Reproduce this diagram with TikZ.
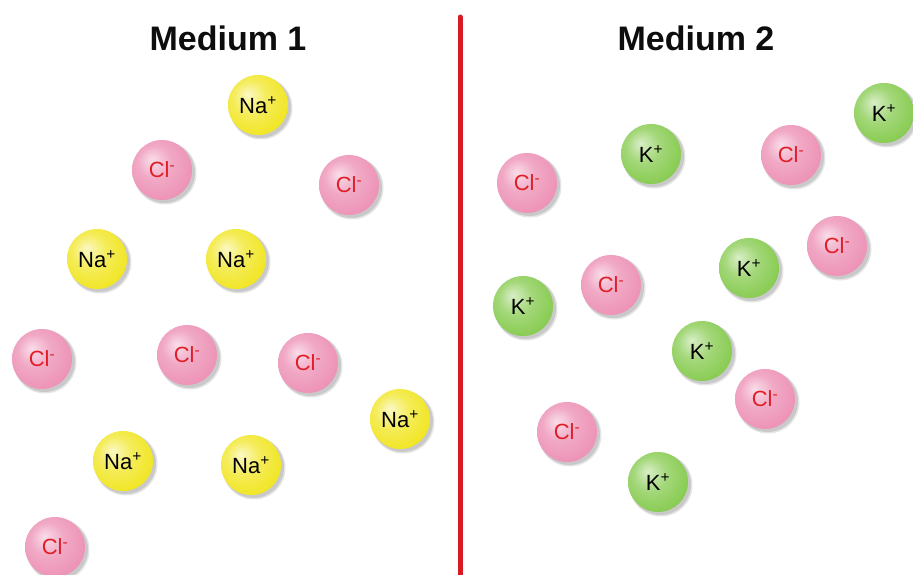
\documentclass[tikz,border=0pt]{standalone}
\usepackage{fontspec}
\setmainfont{Liberation Sans}
\usetikzlibrary{fadings}
\definecolor{pinkc}{RGB}{236,140,178}
\definecolor{yelc}{RGB}{240,228,20}
\definecolor{grnc}{RGB}{128,200,70}
\definecolor{clred}{RGB}{225,30,40}
\definecolor{divred}{RGB}{214,28,34}
\pgfdeclareradialshading{pinkball}{\pgfpoint{-9bp}{9bp}}{color(0bp)=(pinkc!30!white); color(14bp)=(pinkc!75!white); color(34bp)=(pinkc); color(50bp)=(pinkc!88!black)}
\pgfdeclareradialshading{yelball}{\pgfpoint{-9bp}{9bp}}{color(0bp)=(yelc!25!white); color(14bp)=(yelc!70!white); color(34bp)=(yelc); color(50bp)=(yelc!88!black)}
\pgfdeclareradialshading{grnball}{\pgfpoint{-9bp}{9bp}}{color(0bp)=(grnc!30!white); color(14bp)=(grnc!72!white); color(34bp)=(grnc); color(50bp)=(grnc!85!black)}
\tikzset{
  ionball/.style={circle, minimum size=60pt, inner sep=0pt, font=\fontsize{22}{22}\selectfont},
  clball/.style={ionball, shading=pinkball, text=clred},
  naball/.style={ionball, shading=yelball, text=black},
  kball/.style={ionball, shading=grnball, text=black},
  title/.style={font=\fontsize{34}{34}\selectfont\bfseries, text=black!95},
}
\newcommand\ionshadow[2]{%
  \fill[black, opacity=0.10] (#1+3,#2-3) circle (31.5pt);
  \fill[black, opacity=0.12] (#1+2.5,#2-2.5) circle (30.5pt);
}
\newcommand\clion[3]{\ionshadow{#2}{#3}\node[clball] (#1) at (#2,#3) {Cl\textsuperscript{-}};}
\newcommand\naion[3]{\ionshadow{#2}{#3}\node[naball] (#1) at (#2,#3) {Na\textsuperscript{+}};}
\newcommand\kion[3]{\ionshadow{#2}{#3}\node[kball] (#1) at (#2,#3) {K\textsuperscript{+}};}
\begin{document}
\begin{tikzpicture}[x=1pt,y=1pt]
\useasboundingbox (0,0) rectangle (913,-574);
\fill[white] (0,0) rectangle (913,-574);
\node[title] (t1) at (228,-38) {Medium 1};
\node[title] (t2) at (696,-38) {Medium 2};
\coordinate (ltop) at (460,-17);
\coordinate (lbot) at (460,-580);
\draw[divred, line width=5pt, line cap=round] (ltop) -- (lbot);
% Medium 1
\naion{na1}{258}{-105}
\clion{cl1}{162}{-170}
\clion{cl2}{349}{-185}
\naion{na2}{97}{-259}
\naion{na3}{236}{-259}
\clion{cl3}{42}{-359}
\clion{cl4}{187}{-355}
\clion{cl5}{308}{-363}
\naion{na4}{400}{-419}
\naion{na5}{123}{-461}
\naion{na6}{251}{-465}
\clion{cl6}{55}{-547}
% Medium 2
\kion{k1}{884}{-113}
\kion{k2}{651}{-154}
\clion{cl7}{791}{-155}
\clion{cl8}{527}{-183}
\clion{cl9}{837}{-246}
\kion{k3}{749}{-268}
\clion{cl10}{611}{-285}
\kion{k4}{523}{-306}
\kion{k5}{702}{-351}
\clion{cl11}{765}{-399}
\clion{cl12}{567}{-432}
\kion{k6}{658}{-482}
\end{tikzpicture}
\end{document}
